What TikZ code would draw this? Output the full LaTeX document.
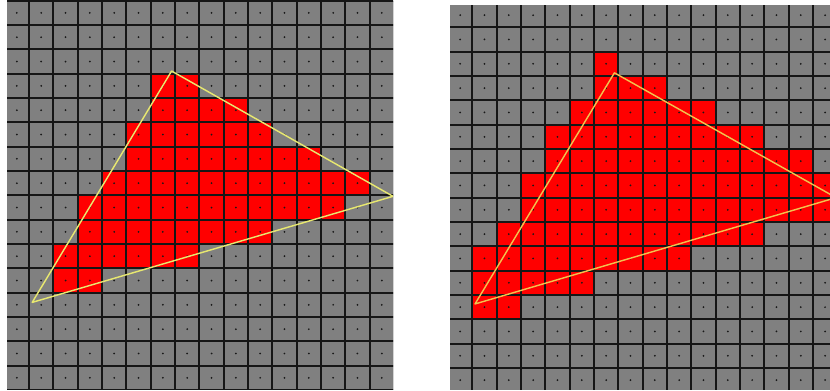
\documentclass[tikz,border=0pt]{standalone}
\usepackage{tikz}
\definecolor{PixGray}{HTML}{808080}
\definecolor{PixRed}{HTML}{FF0000}
\definecolor{PixLine}{HTML}{161616}
\definecolor{EdgeYellow}{HTML}{E8E870}
\definecolor{EdgeAmber}{HTML}{F2C24E}
\tikzset{
  gridline/.style={PixLine,line width=1.4pt},
  pixdot/.style={fill=black!90},
  triedge/.style={line width=1pt,line join=round}
}
\begin{document}
\begin{tikzpicture}[x=0.6cm,y=-0.6cm]
  \useasboundingbox (0,0) rectangle (34.114,16.07);
  % centre sampling
  \begin{scope}[shift={(0.193,0.029)}]
    \clip (0.095,-0.03) rectangle (15.96,15.96);
    \fill[PixGray] (0,0) rectangle (16,16);
    \foreach \r/\a/\b in {3/6/7,4/6/9,5/5/10,6/5/12,7/4/14,8/3/13,9/3/10,10/2/7,11/2/3}
      \foreach \c in {\a,...,\b}
        \fill[PixRed] (\c,\r) rectangle ++(1,1);
    \foreach \k in {0,...,16} {
      \draw[gridline] (\k,0) -- (\k,16);
      \draw[gridline] (0,\k) -- (16,\k);
    }
    \foreach \i in {0,...,15}
      \foreach \j in {0,...,15}
        \fill[pixdot] (\j+0.5,\i+0.5) circle (0.7pt);
    \coordinate (topL) at (6.86,2.89);
    \coordinate (leftL) at (1.13,12.40);
    \coordinate (rightL) at (15.96,8.04);
    \draw[triedge,EdgeYellow] (topL) -- (rightL) -- (leftL) -- cycle;
  \end{scope}
  % conservative
  \begin{scope}[shift={(18.413,0.123)}]
    \clip (0.083,0.083) rectangle (15.70,15.87);
    \fill[PixGray] (0,0) rectangle (16,16);
    \foreach \r/\a/\b in {2/6/6,3/6/8,4/5/10,5/4/12,6/4/14,7/3/15,8/3/15,9/2/12,10/1/9,11/1/5,12/1/2}
      \foreach \c in {\a,...,\b}
        \fill[PixRed] (\c,\r) rectangle ++(1,1);
    \foreach \k in {0,...,16} {
      \draw[gridline] (\k,0) -- (\k,16);
      \draw[gridline] (0,\k) -- (16,\k);
    }
    \foreach \i in {0,...,15}
      \foreach \j in {0,...,15}
        \fill[pixdot] (\j+0.5,\i+0.5) circle (0.7pt);
    \coordinate (topR) at (6.84,2.87);
    \coordinate (leftR) at (1.11,12.37);
    \coordinate (rightR) at (15.95,8.0);
    \draw[triedge,EdgeAmber] (topR) -- (rightR) -- (leftR) -- cycle;
  \end{scope}
\end{tikzpicture}
\end{document}
